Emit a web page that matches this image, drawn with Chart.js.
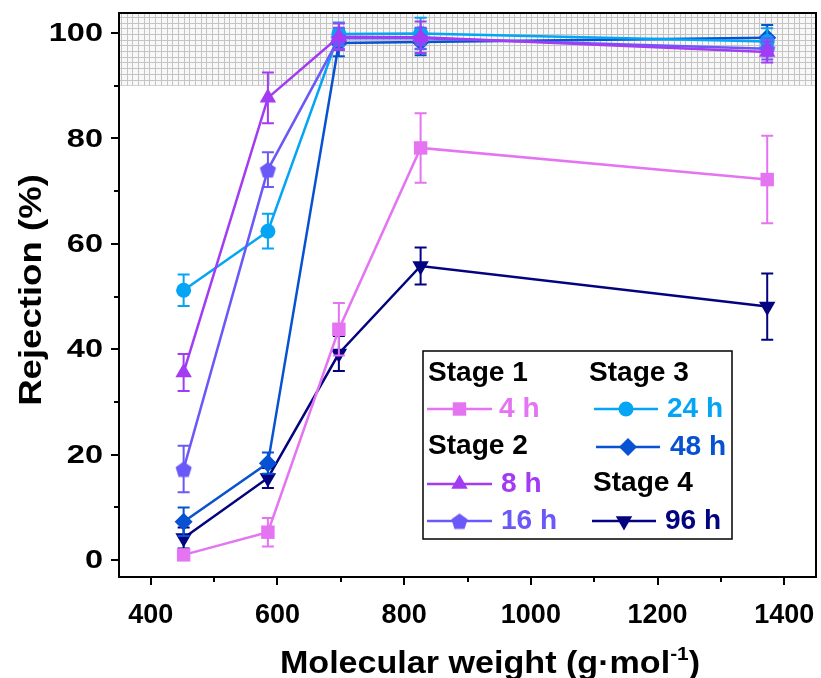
<!DOCTYPE html>
<html>
<head>
<meta charset="utf-8">
<script src="https://cdn.jsdelivr.net/npm/chart.js@4.4.1/dist/chart.umd.min.js"></script>
<style>
  html, body { margin: 0; padding: 0; background: #ffffff; }
  #wrap { width: 821px; height: 678px; }
</style>
</head>
<body>
<div id="wrap"><canvas id="c" width="821" height="678"></canvas></div>
<script>
// Molecular weights of the probe solutes (g/mol)
const molecularWeight = [452, 585, 697, 826, 1373];

// Rejection (%) and error for each exposure time
const rej4h  = [1.0, 5.3, 43.8, 78.2, 72.2];
const err4h  = [0.8, 2.7, 5.0, 6.6, 8.3];
const rej8h  = [35.6, 87.7, 99.3, 99.2, 96.4];
const err8h  = [3.5, 4.8, 2.5, 3.0, 2.0];
const rej16h = [17.3, 74.1, 99.0, 99.0, 97.0];
const err16h = [4.4, 3.3, 2.0, 2.0, 2.0];
const rej24h = [51.2, 62.4, 99.8, 99.9, 98.4];
const err24h = [3.0, 3.3, 2.2, 3.0, 2.5];
const rej48h = [7.3, 18.4, 98.1, 98.3, 99.1];
const err48h = [2.7, 2.0, 2.5, 2.5, 2.4];
const rej96h = [4.2, 15.6, 39.2, 55.8, 48.1];
const err96h = [2.0, 1.9, 3.3, 3.5, 6.3];

const seriesLabels = ['4 h', '8 h', '16 h', '24 h', '48 h', '96 h'];
const stageLabels = ['Stage 1', 'Stage 2', 'Stage 3', 'Stage 4'];

// Axis ticks
const xTickValues = [400, 600, 800, 1000, 1200, 1400];
const xMinorValues = [500, 700, 900, 1100, 1300];
const yTickValues = [0, 20, 40, 60, 80, 100];
const yMinorValues = [10, 30, 50, 70, 90];
const highRejectionFloor = 90;

const FONT = '"Liberation Sans", Arial, Helvetica, sans-serif';

// Pentagon marker as a small canvas
function pentagonCanvas(color, r) {
  const s = Math.ceil(r * 2 + 2);
  const cv = document.createElement('canvas');
  cv.width = s; cv.height = s;
  const g = cv.getContext('2d');
  g.fillStyle = color;
  g.beginPath();
  for (let k = 0; k < 5; k++) {
    const a = -Math.PI / 2 + k * 2 * Math.PI / 5;
    const px = s / 2 + r * Math.cos(a);
    const py = s / 2 + 1 + r * Math.sin(a);
    if (k === 0) g.moveTo(px, py); else g.lineTo(px, py);
  }
  g.closePath();
  g.fill();
  return cv;
}

const series = [
  { label: seriesLabels[0], y: rej4h,  e: err4h,  color: '#E574F2', style: 'rect',     radius: 9.5, rot: 0 },
  { label: seriesLabels[1], y: rej8h,  e: err8h,  color: '#A23BF3', style: 'triangle', radius: 9.5, rot: 0 },
  { label: seriesLabels[2], y: rej16h, e: err16h, color: '#6A58F8', style: pentagonCanvas('#6A58F8', 8.5), radius: 8.5, rot: 0 },
  { label: seriesLabels[3], y: rej24h, e: err24h, color: '#04A5F4', style: 'circle',   radius: 7.5, rot: 0 },
  { label: seriesLabels[4], y: rej48h, e: err48h, color: '#0652D2', style: 'rectRot',  radius: 9,   rot: 0 },
  { label: seriesLabels[5], y: rej96h, e: err96h, color: '#03037F', style: 'triangle', radius: 9.5, rot: 180 }
];

const datasets = series.map(s => ({
  label: s.label,
  data: molecularWeight.map((mw, i) => ({ x: mw, y: s.y[i] })),
  borderColor: s.color,
  backgroundColor: s.color,
  borderWidth: 2.5,
  tension: 0,
  pointStyle: s.style,
  pointRadius: s.radius,
  pointRotation: s.rot,
  pointBackgroundColor: s.color,
  pointBorderColor: s.color,
  pointBorderWidth: 0,
  errors: s.e
}));

// Grey cross-hatched band marking the high-rejection region
const hatchPlugin = {
  id: 'hatch',
  beforeDatasetsDraw(chart) {
    const { ctx, chartArea: a, scales } = chart;
    const yb = scales.y.getPixelForValue(highRejectionFloor);
    ctx.save();
    ctx.beginPath();
    ctx.rect(a.left, a.top, a.right - a.left, yb - a.top);
    ctx.clip();
    ctx.fillStyle = '#f8f8f8';
    ctx.fillRect(a.left, a.top, a.right - a.left, yb - a.top);
    ctx.strokeStyle = '#c4c4c4';
    ctx.lineWidth = 1;
    const step = 5.7;
    ctx.beginPath();
    for (let x = a.left + 2; x <= a.right; x += step) {
      const xx = Math.round(x) + 0.5;
      ctx.moveTo(xx, a.top); ctx.lineTo(xx, yb);
    }
    for (let y = yb - 0.5; y >= a.top; y -= step) {
      const yy = Math.round(y) + 0.5;
      ctx.moveTo(a.left, yy); ctx.lineTo(a.right, yy);
    }
    ctx.stroke();
    ctx.restore();
  }
};

// Vertical error bars with caps, drawn just under each series
const errorBarPlugin = {
  id: 'errorBars',
  beforeDatasetDraw(chart, args) {
    const ds = chart.data.datasets[args.index];
    const { ctx, scales } = chart;
    ctx.save();
    ctx.strokeStyle = ds.borderColor;
    ctx.lineWidth = 2;
    const cap = 6;
    ds.data.forEach((p, i) => {
      const e = ds.errors[i];
      const x = scales.x.getPixelForValue(p.x);
      const yt = scales.y.getPixelForValue(p.y + e);
      const yb = scales.y.getPixelForValue(p.y - e);
      ctx.beginPath();
      ctx.moveTo(x, yt); ctx.lineTo(x, yb);
      ctx.moveTo(x - cap, yt); ctx.lineTo(x + cap, yt);
      ctx.moveTo(x - cap, yb); ctx.lineTo(x + cap, yb);
      ctx.stroke();
    });
    ctx.restore();
  }
};

// Text drawn with a horizontal stretch factor
function stretchedText(ctx, text, x, y, sx, align) {
  ctx.save();
  ctx.translate(x, y);
  ctx.scale(sx, 1);
  ctx.textAlign = align;
  ctx.fillText(text, 0, 0);
  ctx.restore();
}

// Frame, outward tick marks, tick labels, axis titles and the grouped legend
const framePlugin = {
  id: 'frame',
  afterDraw(chart) {
    const { ctx, chartArea: a, scales } = chart;
    ctx.save();
    ctx.strokeStyle = '#000';
    ctx.lineWidth = 2;
    ctx.strokeRect(a.left, a.top, a.right - a.left, a.bottom - a.top);

    ctx.beginPath();
    yTickValues.forEach(v => {
      const y = Math.round(scales.y.getPixelForValue(v));
      ctx.moveTo(a.left, y); ctx.lineTo(a.left - 8, y);
    });
    yMinorValues.forEach(v => {
      const y = Math.round(scales.y.getPixelForValue(v));
      ctx.moveTo(a.left, y); ctx.lineTo(a.left - 5, y);
    });
    xTickValues.forEach(v => {
      const x = Math.round(scales.x.getPixelForValue(v));
      ctx.moveTo(x, a.bottom); ctx.lineTo(x, a.bottom + 8);
    });
    xMinorValues.forEach(v => {
      const x = Math.round(scales.x.getPixelForValue(v));
      ctx.moveTo(x, a.bottom); ctx.lineTo(x, a.bottom + 5);
    });
    ctx.stroke();

    // Tick labels
    ctx.fillStyle = '#000';
    ctx.font = 'bold 26px ' + FONT;
    ctx.textBaseline = 'middle';
    yTickValues.forEach(v => {
      stretchedText(ctx, String(v), a.left - 16, scales.y.getPixelForValue(v) + 1, 1.25, 'right');
    });
    ctx.font = 'bold 27px ' + FONT;
    ctx.textBaseline = 'alphabetic';
    xTickValues.forEach(v => {
      stretchedText(ctx, String(v), scales.x.getPixelForValue(v), 623, 1.0, 'center');
    });

    // Axis titles
    ctx.save();
    ctx.translate(41, 290);
    ctx.rotate(-Math.PI / 2);
    ctx.scale(1.18, 1);
    ctx.textAlign = 'center';
    ctx.font = 'bold 31px ' + FONT;
    ctx.fillText('Rejection (%)', 0, 0);
    ctx.restore();

    const base = 'Molecular weight (g\u00B7mol';
    const sup = '-1';
    const tail = ')';
    const sx = 1.1;
    ctx.font = 'bold 31px ' + FONT;
    const w1 = ctx.measureText(base).width * sx;
    const w3 = ctx.measureText(tail).width * sx;
    ctx.font = 'bold 19px ' + FONT;
    const w2 = ctx.measureText(sup).width * sx;
    const x0 = 490 - (w1 + w2 + w3) / 2;
    const yb = 673;
    ctx.font = 'bold 31px ' + FONT;
    stretchedText(ctx, base, x0, yb, sx, 'left');
    ctx.font = 'bold 19px ' + FONT;
    stretchedText(ctx, sup, x0 + w1, yb - 13, sx, 'left');
    ctx.font = 'bold 31px ' + FONT;
    stretchedText(ctx, tail, x0 + w1 + w2, yb, sx, 'left');

    // Legend box
    const L = { left: 423, top: 351, right: 732, bottom: 539 };
    ctx.fillStyle = '#fff';
    ctx.fillRect(L.left, L.top, L.right - L.left, L.bottom - L.top);
    ctx.strokeStyle = '#000';
    ctx.lineWidth = 1.5;
    ctx.strokeRect(L.left, L.top, L.right - L.left, L.bottom - L.top);

    ctx.textBaseline = 'middle';
    ctx.font = 'bold 27px ' + FONT;
    ctx.fillStyle = '#000';
    stretchedText(ctx, stageLabels[0], 428, 374, 1.04, 'left');
    stretchedText(ctx, stageLabels[1], 428, 447, 1.04, 'left');
    stretchedText(ctx, stageLabels[2], 589, 374, 1.04, 'left');
    stretchedText(ctx, stageLabels[3], 593, 484, 1.04, 'left');

    const rows = [
      { s: 0, y: 409, x1: 427, x2: 492, tx: 499 },
      { s: 1, y: 484, x1: 427, x2: 492, tx: 501 },
      { s: 2, y: 521, x1: 427, x2: 492, tx: 501 },
      { s: 3, y: 409, x1: 594, x2: 658, tx: 667 },
      { s: 4, y: 447, x1: 596, x2: 660, tx: 670 },
      { s: 5, y: 521, x1: 592, x2: 656, tx: 665 }
    ];
    rows.forEach(r => {
      const s = series[r.s];
      ctx.strokeStyle = s.color;
      ctx.lineWidth = 2.5;
      ctx.beginPath();
      ctx.moveTo(r.x1, r.y); ctx.lineTo(r.x2, r.y);
      ctx.stroke();
      ctx.fillStyle = s.color;
      Chart.helpers.drawPoint(ctx, {
        pointStyle: s.style, radius: s.radius, rotation: s.rot, borderWidth: 0
      }, (r.x1 + r.x2) / 2, r.y);
      ctx.font = 'bold 27px ' + FONT;
      ctx.textBaseline = 'middle';
      stretchedText(ctx, s.label, r.tx, r.y + 1, 1.04, 'left');
    });
    ctx.restore();
  }
};

new Chart(document.getElementById('c'), {
  type: 'line',
  data: { datasets },
  options: {
    responsive: false,
    animation: false,
    devicePixelRatio: 1,
    layout: { autoPadding: false, padding: { top: 13, right: 5, left: 0, bottom: 0 } },
    plugins: {
      legend: { display: false },
      tooltip: { enabled: false },
      title: { display: false }
    },
    scales: {
      x: {
        type: 'linear',
        min: 350,
        max: 1450,
        afterBuildTicks: s => { s.ticks = xTickValues.map(v => ({ value: v })); },
        afterFit: s => { s.height = 101; },
        grid: { display: false, drawTicks: false },
        border: { display: false },
        ticks: { display: false }
      },
      y: {
        type: 'linear',
        min: -3.2,
        max: 103.8,
        afterBuildTicks: s => { s.ticks = yTickValues.map(v => ({ value: v })); },
        afterFit: s => { s.width = 119; },
        grid: { display: false, drawTicks: false },
        border: { display: false },
        ticks: { display: false }
      }
    }
  },
  plugins: [hatchPlugin, errorBarPlugin, framePlugin]
});
</script>
</body>
</html>
